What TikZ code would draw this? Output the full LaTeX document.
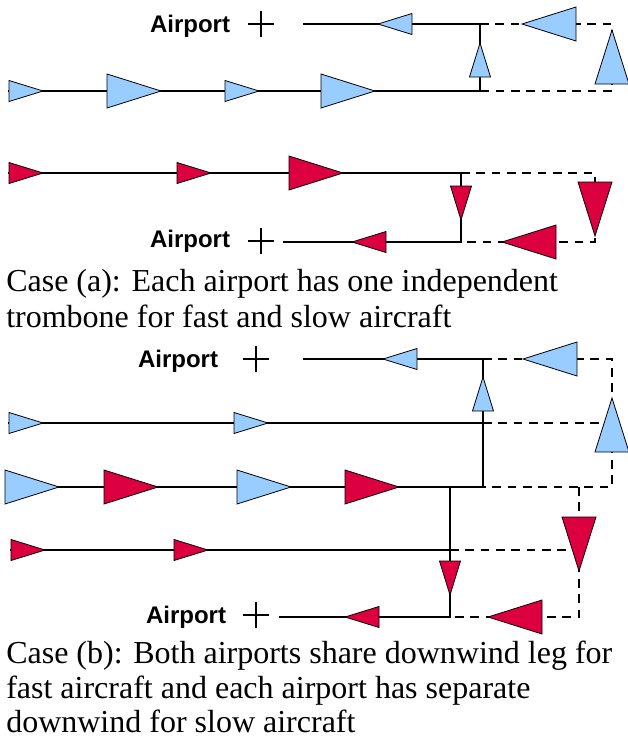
\documentclass[tikz,border=0pt]{standalone}
\usepackage{fontspec}
\setmainfont{Liberation Serif}
\newfontfamily\labelfont{Liberation Sans}
\definecolor{slowblue}{HTML}{99CCFF}
\definecolor{fastred}{HTML}{DD0040}

\tikzset{
  smallplane/.pic={\path[pic actions] (0,0) -- (-34,10.5) -- (-34,-10.5) -- cycle;},
  largeplane/.pic={\path[pic actions] (0,0) -- (-54,17) -- (-54,-17) -- cycle;},
  plusmark/.pic={\draw[line width=1pt] (-13,0) -- (13,0) (0,-13) -- (0,13);},
  blueplane/.style={draw=black, fill=slowblue, line width=0.6pt},
  redplane/.style={draw=black, fill=fastred, line width=0.6pt},
  route/.style={line width=1.7pt},
  holding/.style={line width=1.7pt, dash pattern=on 6.5pt off 5pt},
  airport/.style={anchor=base, inner sep=0pt, font=\labelfont\bfseries\fontsize{18}{20}\selectfont},
  caption/.style={anchor=base west, inner sep=0pt, font=\fontsize{24}{27}\selectfont},
}

\begin{document}
\begin{tikzpicture}[x=0.75pt,y=0.75pt,yscale=-1,xscale=1]
  \useasboundingbox (0,0) rectangle (628,740);

  % case (a), first airport
  \node[airport] (apA) at (190,32) {Airport};
  \pic at (261,24) {plusmark};
  \coordinate (aA-in) at (8,91);
  \coordinate (aA-base) at (480,91);
  \coordinate (aA-turn) at (480,24);
  \coordinate (aA-fin) at (303,24);
  \coordinate (aA-far) at (612,24);
  \coordinate (aA-farbase) at (612,91);
  \draw[route] (aA-in) -- (aA-base) -- (aA-turn) -- (aA-fin);
  \draw[holding] (aA-turn) -- (aA-far) -- (aA-farbase) -- (aA-base);
  \pic[blueplane] at (43,91) {smallplane};
  \pic[blueplane] at (161,91) {largeplane};
  \pic[blueplane] at (259,91) {smallplane};
  \pic[blueplane] at (375,91) {largeplane};
  \pic[blueplane, rotate=90] at (480,43) {smallplane};
  \pic[blueplane, rotate=180] at (378,24) {smallplane};
  \pic[blueplane, rotate=180] at (522,24) {largeplane};
  \pic[blueplane, rotate=90] at (612,30) {largeplane};

  % case (a), second airport
  \node[airport] (apB) at (190,247) {Airport};
  \pic at (261,241) {plusmark};
  \coordinate (aB-in) at (8,173);
  \coordinate (aB-turn) at (461,173);
  \coordinate (aB-base) at (461,242);
  \coordinate (aB-fin) at (283,242);
  \coordinate (aB-far) at (595,173);
  \coordinate (aB-farbase) at (595,242);
  \draw[route] (aB-in) -- (aB-turn) -- (aB-base) -- (aB-fin);
  \draw[holding] (aB-turn) -- (aB-far) -- (aB-farbase) -- (aB-base);
  \pic[redplane] at (43,173) {smallplane};
  \pic[redplane] at (211,173) {smallplane};
  \pic[redplane] at (343,173) {largeplane};
  \pic[redplane, rotate=-90] at (461,220) {smallplane};
  \pic[redplane, rotate=-90] at (595,236) {largeplane};
  \pic[redplane, rotate=180] at (352,242) {smallplane};
  \pic[redplane, rotate=180] at (502,242) {largeplane};

  \node[caption] (capA1) at (6,291) {Case (a): Each airport has one independent};
  \node[caption] (capA2) at (6,327) {trombone for fast and slow aircraft};

  % case (b), first airport
  \node[airport] (apC) at (178,367) {Airport};
  \pic at (256,359) {plusmark};
  \coordinate (bC-fin) at (303,359);
  \coordinate (bC-turn) at (483,359);
  \coordinate (bC-far) at (612,359);
  \coordinate (bC-slow) at (8,423);
  \coordinate (bC-slowend) at (483,423);
  \coordinate (bC-slowfar) at (612,423);
  \coordinate (bC-fast) at (8,487);
  \coordinate (bC-base) at (483,487);
  \coordinate (bC-farbase) at (612,487);
  \draw[route] (bC-slow) -- (bC-slowend);
  \draw[route] (bC-fast) -- (bC-base) -- (bC-turn) -- (bC-fin);
  \draw[holding] (bC-turn) -- (bC-far) -- (bC-farbase) -- (bC-base);
  \draw[holding] (bC-slowend) -- (bC-slowfar);

  % case (b), second airport
  \node[airport] (apD) at (186,623) {Airport};
  \pic at (256,615) {plusmark};
  \coordinate (bD-turn) at (450,487);
  \coordinate (bD-slow) at (10,550);
  \coordinate (bD-slowend) at (450,550);
  \coordinate (bD-slowfar) at (579,550);
  \coordinate (bD-top) at (579,487);
  \coordinate (bD-base) at (450,617);
  \coordinate (bD-farbase) at (579,617);
  \coordinate (bD-fin) at (279,617);
  \draw[route] (bD-slow) -- (bD-slowend);
  \draw[route] (bD-turn) -- (bD-base) -- (bD-fin);
  \draw[holding] (bD-slowend) -- (bD-slowfar);
  \draw[holding] (bD-top) -- (bD-farbase) -- (bD-base);

  \pic[blueplane, rotate=180] at (383,359) {smallplane};
  \pic[blueplane, rotate=180] at (523,359) {largeplane};
  \pic[blueplane, rotate=90] at (483,377) {smallplane};
  \pic[blueplane, rotate=90] at (612,398) {largeplane};
  \pic[blueplane] at (43,423) {smallplane};
  \pic[blueplane] at (268,423) {smallplane};
  \pic[blueplane] at (59,487) {largeplane};
  \pic[redplane] at (158,487) {largeplane};
  \pic[blueplane] at (291,487) {largeplane};
  \pic[redplane] at (399,487) {largeplane};
  \pic[redplane] at (45,550) {smallplane};
  \pic[redplane] at (208,550) {smallplane};
  \pic[redplane, rotate=-90] at (579,571) {largeplane};
  \pic[redplane, rotate=-90] at (450,595) {smallplane};
  \pic[redplane, rotate=180] at (345,617) {smallplane};
  \pic[redplane, rotate=180] at (488,617) {largeplane};

  \node[caption] (capB1) at (6,663) {Case (b): Both airports share downwind leg for};
  \node[caption] (capB2) at (6,698) {fast aircraft and each airport has separate};
  \node[caption] (capB3) at (6,732) {downwind for slow aircraft};
\end{tikzpicture}
\end{document}
